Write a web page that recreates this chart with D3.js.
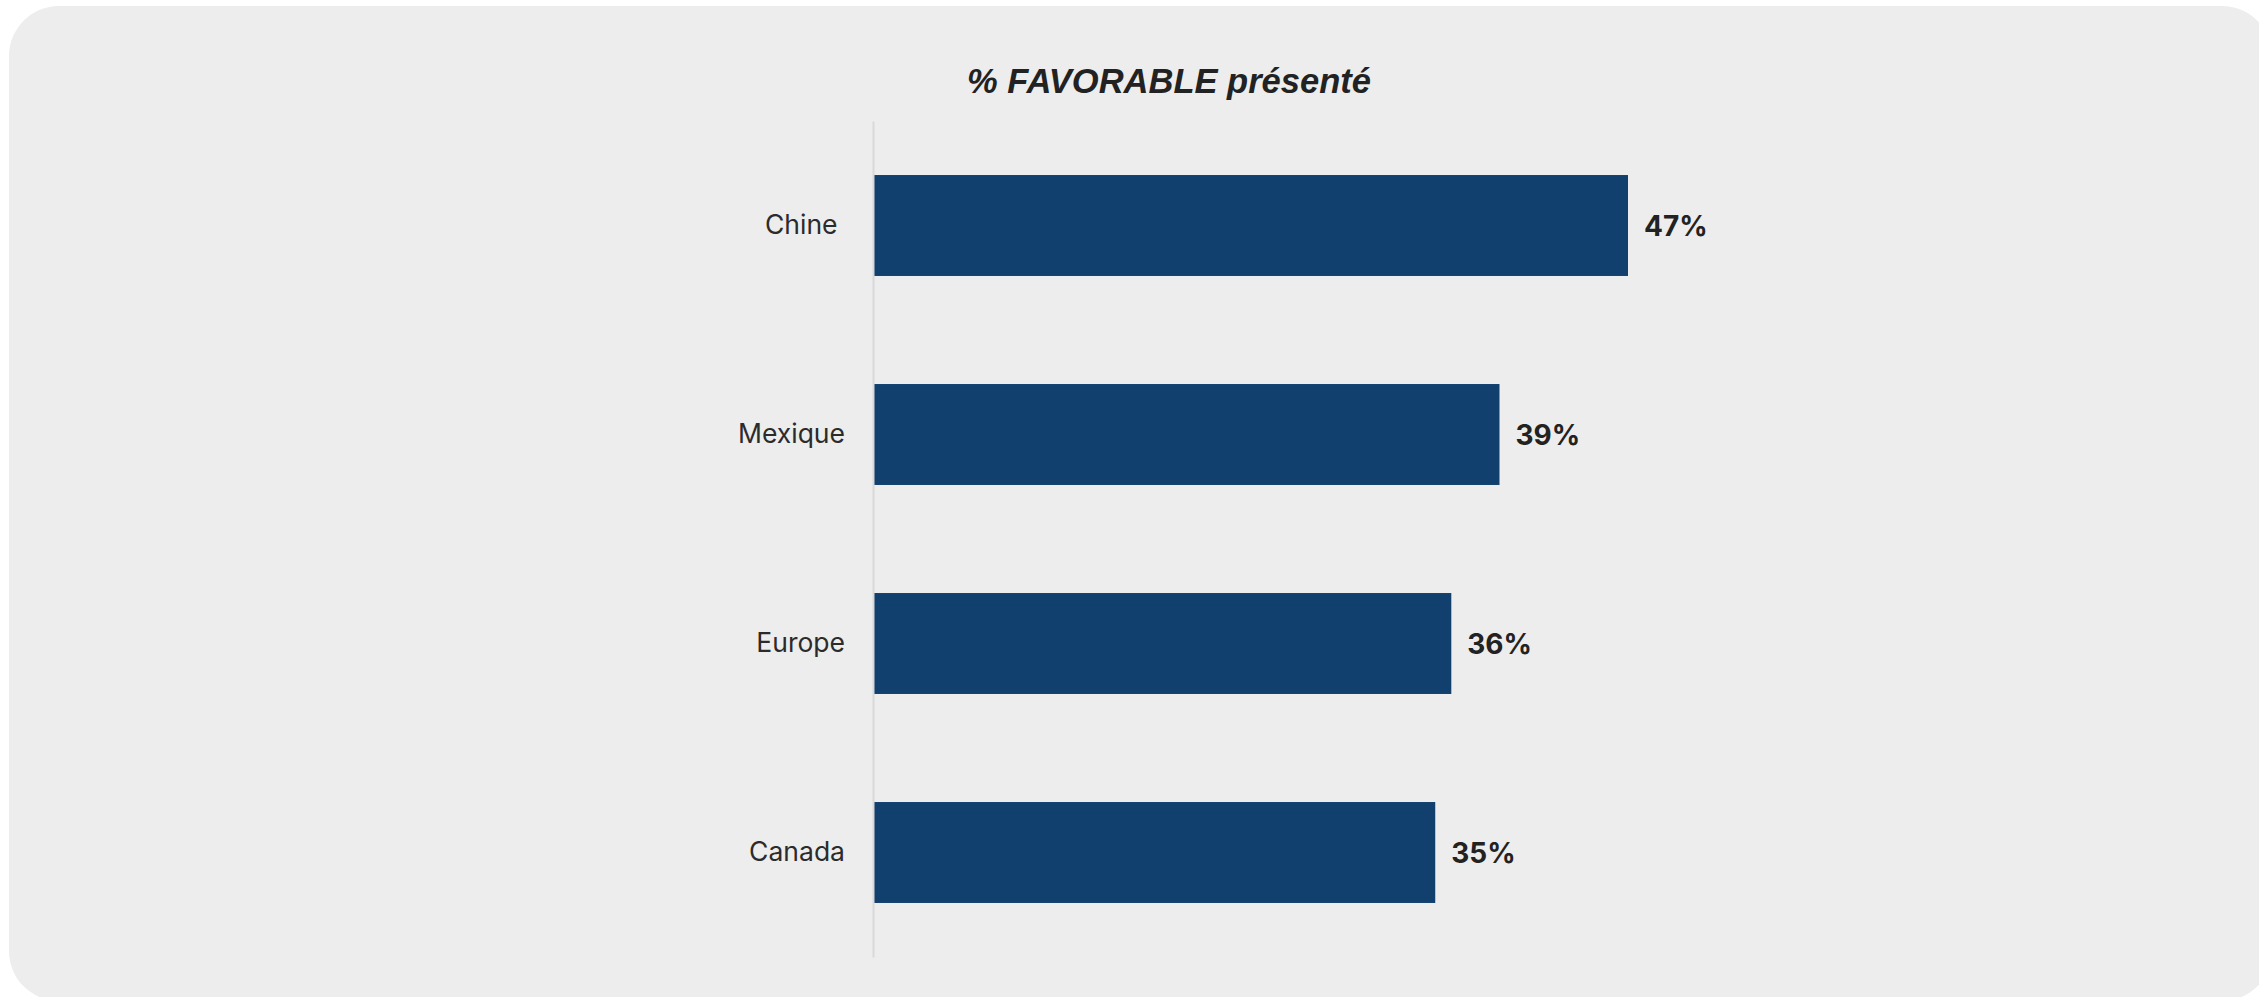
<!DOCTYPE html>
<html>
<head>
<meta charset="utf-8">
<script src="https://cdn.jsdelivr.net/npm/d3@7"></script>
<style>
  html, body { margin: 0; padding: 0; background: #ffffff; }
  svg { display: block; }
</style>
</head>
<body>
<svg id="chart" width="2259" height="997"></svg>
<script>
const categories = ["Chine ", "Mexique", "Europe", "Canada"];
const values = [47, 39, 36, 35];
const valueLabels = ["47%", "39%", "36%", "35%"];
const title = "% FAVORABLE présenté";

const svg = d3.select("#chart");

// background panel
svg.append("rect")
  .attr("x", 9).attr("y", 6)
  .attr("width", 2263).attr("height", 995)
  .attr("rx", 50).attr("ry", 50)
  .attr("fill", "#ededed");

// title
svg.append("text")
  .attr("x", 1169).attr("y", 93)
  .attr("text-anchor", "middle")
  .attr("font-family", "'Liberation Sans', Arial, sans-serif")
  .attr("font-weight", "bold")
  .attr("font-style", "italic")
  .attr("font-size", 34.5)
  .attr("fill", "#222222")
  .text(title);

const x0 = 873;
const x = d3.scaleLinear().domain([0, 47]).range([x0, 1628]);
const y = d3.scaleBand().domain(categories).range([121, 957])
  .paddingInner(0.517).paddingOuter(0.2585);

// bars
svg.append("g").selectAll("rect")
  .data(values)
  .join("rect")
  .attr("x", x(0) + 1)
  .attr("y", (d, i) => y(categories[i]))
  .attr("width", d => x(d) - x(0) - 1)
  .attr("height", y.bandwidth())
  .attr("fill", "#11406f");

// y axis
const yAxis = d3.axisLeft(y).tickSize(0).tickPadding(28);
const gy = svg.append("g").attr("transform", `translate(${x0},0)`).call(yAxis);
gy.select(".domain").attr("stroke", "#d9d9d9").attr("stroke-width", 2);
gy.selectAll(".tick text")
  .attr("font-family", "Inter, 'Liberation Sans', sans-serif")
  .attr("font-size", 26.5)
  .attr("fill", "#2b2b2b")
  .style("white-space", "pre");

// value labels
svg.append("g").selectAll("text")
  .data(values)
  .join("text")
  .attr("x", d => x(d) + 16)
  .attr("y", (d, i) => y(categories[i]) + y.bandwidth() / 2)
  .attr("dy", "0.36em")
  .attr("font-family", "Inter, 'Liberation Sans', sans-serif")
  .attr("font-weight", "bold")
  .attr("font-size", 28)
  .attr("fill", "#222222")
  .text((d, i) => valueLabels[i]);
</script>
</body>
</html>
